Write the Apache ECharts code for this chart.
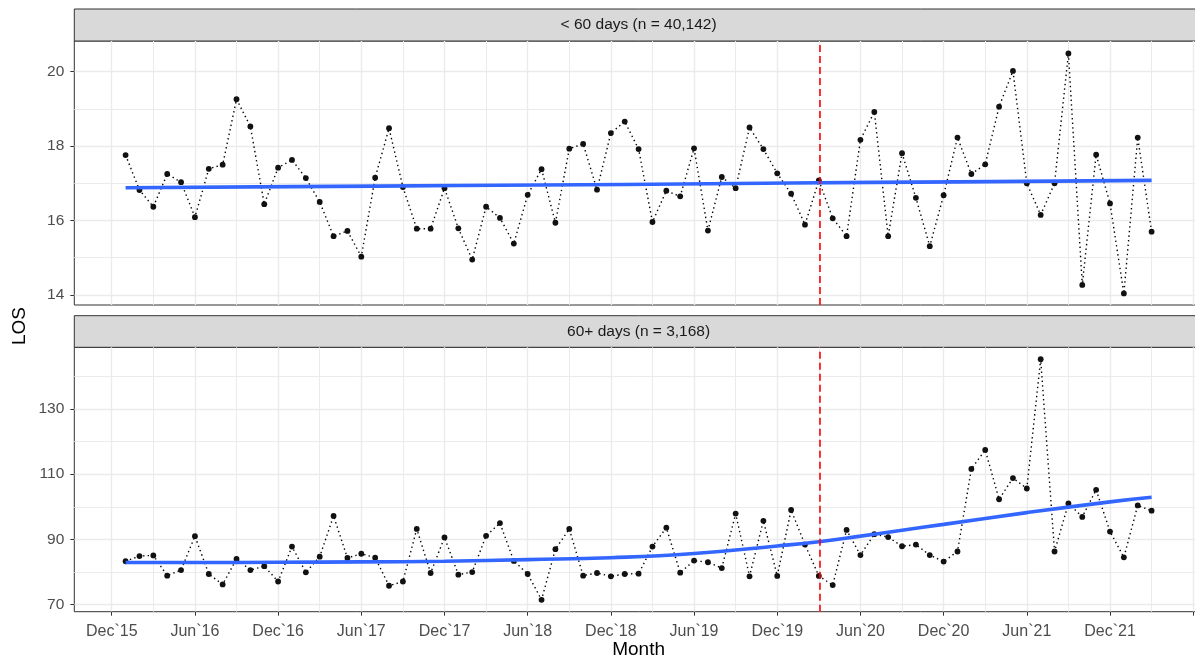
<!DOCTYPE html>
<html><head><meta charset="utf-8">
<script src="https://cdn.jsdelivr.net/npm/echarts@6/dist/echarts.min.js"></script>
<style>html,body{margin:0;padding:0;background:#fff;overflow:hidden;width:1195px;height:662px}#c{width:1215px;height:662px}</style>
</head><body><div id="c"></div>
<script>
// ---------- data ----------
const months = [
 "2016-01","2016-02","2016-03","2016-04","2016-05","2016-06","2016-07","2016-08","2016-09","2016-10","2016-11","2016-12",
 "2017-01","2017-02","2017-03","2017-04","2017-05","2017-06","2017-07","2017-08","2017-09","2017-10","2017-11","2017-12",
 "2018-01","2018-02","2018-03","2018-04","2018-05","2018-06","2018-07","2018-08","2018-09","2018-10","2018-11","2018-12",
 "2019-01","2019-02","2019-03","2019-04","2019-05","2019-06","2019-07","2019-08","2019-09","2019-10","2019-11","2019-12",
 "2020-01","2020-02","2020-03","2020-04","2020-05","2020-06","2020-07","2020-08","2020-09","2020-10","2020-11","2020-12",
 "2021-01","2021-02","2021-03","2021-04","2021-05","2021-06","2021-07","2021-08","2021-09","2021-10","2021-11","2021-12",
 "2022-01","2022-02","2022-03"];

const losShort = [
 17.76,16.82,16.37,17.25,17.03,16.09,17.39,17.50,19.26,18.53,16.44,17.42,
 17.63,17.14,16.50,15.58,15.72,15.03,17.15,18.48,16.90,15.78,15.78,16.87,
 15.79,14.95,16.37,16.07,15.38,16.69,17.38,15.94,17.93,18.06,16.83,18.35,
 18.66,17.92,15.96,16.80,16.65,17.94,15.73,17.17,16.87,18.50,17.92,17.27,
 16.72,15.89,17.08,16.06,15.58,18.17,18.92,15.58,17.81,16.61,15.31,16.68,
 18.23,17.25,17.51,19.06,20.02,17.00,16.15,17.00,20.49,14.27,17.77,16.46,
 14.04,18.23,15.70];

const losLong = [
 83.3,84.9,85.1,78.9,80.6,91.0,79.4,76.2,84.0,80.6,81.8,77.1,
 87.8,79.9,84.7,97.2,84.3,85.6,84.4,75.8,77.1,93.2,79.7,90.6,
 79.2,80.0,91.1,95.0,83.4,79.4,71.5,87.0,93.2,78.9,79.7,78.7,
 79.4,79.5,87.8,93.6,79.8,83.5,83.0,81.2,97.9,78.7,95.7,78.8,
 99.0,88.4,78.8,76.0,92.9,85.2,91.6,90.7,87.9,88.4,85.2,83.2,
 86.3,111.6,117.4,102.3,108.8,105.6,145.2,86.3,101.0,96.9,105.2,92.4,
 84.5,100.4,98.8];

const smoothShortMonths = ["2016-01","2017-01","2018-01","2019-01","2020-01","2021-01","2022-03"];
const smoothShortValues = [16.88,16.91,16.94,16.97,17.01,17.04,17.08];

const smoothLongMonths = ["2016-01","2016-06","2016-12","2017-06","2017-12","2018-06","2018-12","2019-06",
  "2019-12","2020-03","2020-06","2020-09","2020-12","2021-06","2021-12","2022-03"];
const smoothLongValues = [82.9,82.9,83.0,83.1,83.3,83.8,84.4,85.7,88.0,89.3,91.0,92.8,94.6,98.2,101.5,102.9];

const stripTitles = ["< 60 days (n = 40,142)", "60+ days (n = 3,168)"];
const tickMonths = ["2015-12","2016-06","2016-12","2017-06","2017-12","2018-06","2018-12",
  "2019-06","2019-12","2020-06","2020-12","2021-06","2021-12"];
const tickLabels = ["Dec`15","Jun`16","Dec`16","Jun`17","Dec`17","Jun`18","Dec`18",
  "Jun`19","Dec`19","Jun`20","Dec`20","Jun`21","Dec`21"];
const gridMonths = tickMonths.concat(["2022-06"]);
const interventionDate = "2020-03-04";

const yTicksShort = [14,16,18,20];
const yMinorShort = [15,17,19];
const yTicksLong = [70,90,110,130];
const yMinorLong = [80,100,120,140];

// ---------- helpers ----------
function toIdx(s){
  const p = s.split('-').map(Number);
  const y = p[0], m = p[1], d = p[2] || 1;
  const dim = new Date(y, m, 0).getDate();
  return (y - 2015) * 12 + (m - 12) + (d - 1) / dim;
}
const X_MIN = -2.7, X_MAX = 78.7;
const majorX = gridMonths.map(toIdx);
const minorX = majorX.map(v => v + 3).filter(v => v < X_MAX);
const labelX = tickMonths.map(toIdx);

const L = 74.3, W = 1128.6;
const FONT = '"Liberation Sans", Arial, sans-serif';
const GRID_COL = '#EBEBEB';

function xMajor(gi, withLabels){
  return {type:'value', gridIndex:gi, min:X_MIN, max:X_MAX, position:'bottom',
    axisLine:{show:false, onZero:false},
    axisTick:{show:withLabels, customValues:majorX, length:4, lineStyle:{color:'#333', width:1}},
    axisLabel:{show:withLabels, customValues:labelX, color:'#4D4D4D', fontSize:16, fontFamily:FONT, margin:12,
      formatter: v => { const i = labelX.findIndex(t => Math.abs(t - v) < 1e-6); return i >= 0 ? tickLabels[i] : ''; }},
    splitLine:{show:true, lineStyle:{color:GRID_COL, width:1.4}}};
}
function xMinor(gi){
  return {type:'value', gridIndex:gi, min:X_MIN, max:X_MAX, position:'top',
    axisLine:{show:false, onZero:false}, axisTick:{show:false, customValues:minorX},
    axisLabel:{show:false}, splitLine:{show:true, lineStyle:{color:GRID_COL, width:1.0}}};
}
function yMajor(gi, mn, mx, ticks){
  return {type:'value', gridIndex:gi, min:mn, max:mx, position:'left',
    axisLine:{show:false, onZero:false},
    axisTick:{show:true, customValues:ticks, length:4, lineStyle:{color:'#333', width:1}},
    axisLabel:{customValues:ticks, color:'#4D4D4D', fontSize:15.5, fontFamily:FONT, margin:10},
    splitLine:{show:true, lineStyle:{color:GRID_COL, width:1.4}}};
}
function yMinor(gi, mn, mx, ticks){
  return {type:'value', gridIndex:gi, min:mn, max:mx, position:'right',
    axisLine:{show:false, onZero:false}, axisTick:{show:false, customValues:ticks},
    axisLabel:{show:false}, splitLine:{show:true, lineStyle:{color:GRID_COL, width:1.0}}};
}
function pointSeries(xi, yi, values){
  return {type:'line', xAxisIndex:xi, yAxisIndex:yi, animation:false,
    data: months.map((m, i) => [toIdx(m), values[i]]),
    symbol:'circle', symbolSize:5.8, showSymbol:true,
    itemStyle:{color:'#111'},
    lineStyle:{color:'#000', width:1.4, type:[1.4, 3.2]},
    z:3,
    markLine:{silent:true, animation:false, symbol:['none','none'], label:{show:false},
      lineStyle:{color:'#FF0000', type:[7,4], width:1.6},
      data:[{xAxis: toIdx(interventionDate)}]}};
}
function smoothSeries(xi, yi, ms, vs){
  return {type:'line', xAxisIndex:xi, yAxisIndex:yi, animation:false,
    data: ms.map((m, i) => [toIdx(m), vs[i]]),
    smooth:true, symbol:'none', showSymbol:false,
    lineStyle:{color:'#3366FF', width:3.6}, z:4};
}

const chart = echarts.init(document.getElementById('c'), null, {renderer:'canvas', width:1215, height:662});
chart.setOption({
  backgroundColor:'#fff',
  animation:false,
  grid:[
    {left:L, top:41, width:W, height:264, show:true, borderColor:'#333', borderWidth:1, backgroundColor:'transparent'},
    {left:L, top:347.3, width:W, height:264.4, show:true, borderColor:'#333', borderWidth:1, backgroundColor:'transparent'}
  ],
  xAxis:[xMajor(0,false), xMinor(0), xMajor(1,true), xMinor(1)],
  yAxis:[yMajor(0,13.73,20.825,yTicksShort), yMinor(0,13.73,20.825,yMinorShort),
         yMajor(1,67.85,148.85,yTicksLong), yMinor(1,67.85,148.85,yMinorLong)],
  series:[
    pointSeries(0,0,losShort), smoothSeries(0,0,smoothShortMonths,smoothShortValues),
    pointSeries(2,2,losLong), smoothSeries(2,2,smoothLongMonths,smoothLongValues)
  ],
  graphic:[
    {type:'rect', shape:{x:L, y:9, width:W, height:32}, style:{fill:'#D9D9D9', stroke:'#333', lineWidth:1}},
    {type:'text', x:L+W/2, y:25, style:{text:stripTitles[0], font:'15.5px ' + FONT, fill:'#1A1A1A', align:'center', verticalAlign:'middle'}},
    {type:'rect', shape:{x:L, y:315.7, width:W, height:31.6}, style:{fill:'#D9D9D9', stroke:'#333', lineWidth:1}},
    {type:'text', x:L+W/2, y:331.5, style:{text:stripTitles[1], font:'15.5px ' + FONT, fill:'#1A1A1A', align:'center', verticalAlign:'middle'}},
    {type:'text', x:20, y:326, rotation:Math.PI/2, style:{text:'LOS', font:'19px ' + FONT, fill:'#000', align:'center', verticalAlign:'middle'}},
    {type:'text', x:L+W/2, y:650, style:{text:'Month', font:'19px ' + FONT, fill:'#000', align:'center', verticalAlign:'middle'}}
  ]
});
</script>
</body></html>
